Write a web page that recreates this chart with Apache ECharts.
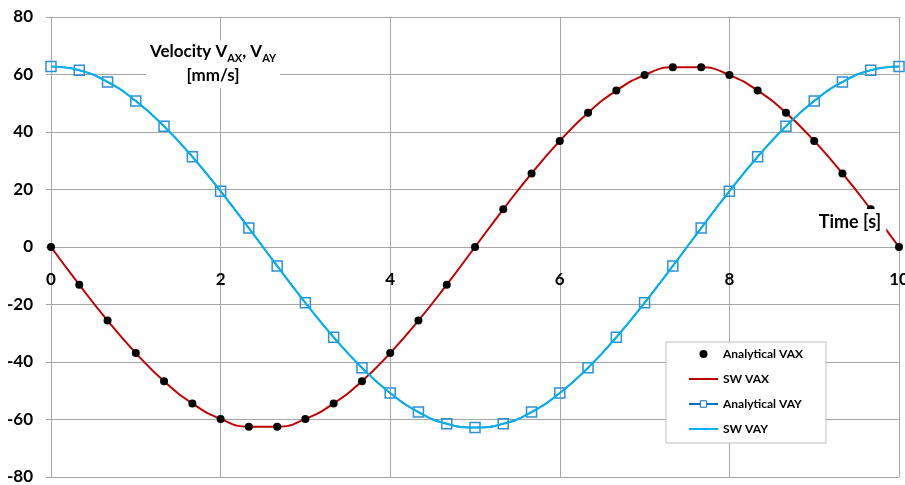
<!DOCTYPE html>
<html><head><meta charset="utf-8">
<script src="https://cdn.jsdelivr.net/npm/echarts@6/dist/echarts.min.js"></script>
<style>html,body{margin:0;padding:0;background:#fff}#c{width:905px;height:485px}</style>
</head><body><div id="c"></div>
<script>
// Time [s]
const time = [0,0.333,0.667,1,1.333,1.667,2,2.333,2.667,3,3.333,3.667,4,4.333,4.667,5,5.333,5.667,6,6.333,6.667,7,7.333,7.667,8,8.333,8.667,9,9.333,9.667,10];
// Velocities [mm/s]
const analyticalVAX = [0,-13.1,-25.6,-36.9,-46.7,-54.4,-59.8,-62.5,-62.5,-59.8,-54.4,-46.7,-36.9,-25.6,-13.1,0,13.1,25.6,36.9,46.7,54.4,59.8,62.5,62.5,59.8,54.4,46.7,36.9,25.6,13.1,0];
const swVAX = [0,-13.1,-25.6,-36.9,-46.7,-54.4,-59.8,-62.5,-62.5,-59.8,-54.4,-46.7,-36.9,-25.6,-13.1,0,13.1,25.6,36.9,46.7,54.4,59.8,62.5,62.5,59.8,54.4,46.7,36.9,25.6,13.1,0];
const analyticalVAY = [62.8,61.5,57.4,50.8,42.0,31.4,19.4,6.6,-6.6,-19.4,-31.4,-42.0,-50.8,-57.4,-61.5,-62.8,-61.5,-57.4,-50.8,-42.0,-31.4,-19.4,-6.6,6.6,19.4,31.4,42.0,50.8,57.4,61.5,62.8];
const swVAY = [62.8,61.5,57.4,50.8,42.0,31.4,19.4,6.6,-6.6,-19.4,-31.4,-42.0,-50.8,-57.4,-61.5,-62.8,-61.5,-57.4,-50.8,-42.0,-31.4,-19.4,-6.6,6.6,19.4,31.4,42.0,50.8,57.4,61.5,62.8];
const seriesNames = ['Analytical VAX','SW VAX','Analytical VAY','SW VAY'];
const yTitle = ['Velocity V', 'AX', ', V', 'AY', '[mm/s]'];
const xTitle = 'Time [s]';

const pair = arr => time.map((t, i) => [t, arr[i]]);
const FONT = 'Lato';
const GRID = '#a6a6a6';

const chart = echarts.init(document.getElementById('c'));
chart.setOption({
  animation: false,
  backgroundColor: '#fff',
  grid: { left: 51, right: 6, top: 17, bottom: 8, containLabel: false, outerBoundsMode: 'none' },
  xAxis: {
    type: 'value', min: 0, max: 10, interval: 2,
    position: 'bottom', offset: -230,
    axisLine: { onZero: false, lineStyle: { color: GRID, width: 1 } },
    axisTick: { show: false },
    splitLine: { show: true, lineStyle: { color: GRID, width: 1 } },
    axisLabel: { margin: 24, color: '#000', fontFamily: FONT, fontWeight: 'bold', fontSize: 17 }
  },
  yAxis: {
    type: 'value', min: -80, max: 80, interval: 20,
    axisLine: { show: true, lineStyle: { color: GRID, width: 1 } },
    axisTick: { show: true, length: 5, lineStyle: { color: GRID } },
    splitLine: { show: true, lineStyle: { color: GRID, width: 1 } },
    axisLabel: { margin: 18, color: '#000', fontFamily: FONT, fontWeight: 'bold', fontSize: 17 }
  },
  legend: {
    orient: 'vertical', left: 666, top: 342,
    itemWidth: 29, itemHeight: 8, itemGap: 13,
    padding: [6, 23, 8, 22],
    backgroundColor: '#fff', borderColor: '#bfbfbf', borderWidth: 1,
    textStyle: { fontFamily: FONT, fontWeight: 'bold', fontSize: 12, color: '#000' },
    data: [
      { name: seriesNames[0] },
      { name: seriesNames[1], itemStyle: { opacity: 0 } },
      { name: seriesNames[2], itemStyle: { color: '#fff', borderColor: '#0070C0', borderWidth: 1 } },
      { name: seriesNames[3], itemStyle: { opacity: 0 } }
    ]
  },
  series: [
    { name: seriesNames[0], type: 'scatter', data: pair(analyticalVAX), symbol: 'circle', symbolSize: 8,
      itemStyle: { color: '#000', opacity: 1 }, z: 5 },
    { name: seriesNames[1], type: 'line', data: pair(swVAX), smooth: true, symbol: 'none',
      lineStyle: { color: '#C00000', width: 2 }, itemStyle: { color: '#C00000' }, z: 3 },
    { name: seriesNames[2], type: 'line', data: pair(analyticalVAY), smooth: true, symbol: 'rect', symbolSize: 10,
      lineStyle: { color: '#0070C0', width: 1.5 },
      itemStyle: { color: 'rgba(255,255,255,0)', borderColor: '#2E8FD6', borderWidth: 1.5 }, z: 2 },
    { name: seriesNames[3], type: 'line', data: pair(swVAY), smooth: true, symbol: 'none',
      lineStyle: { color: '#00B0F0', width: 2 }, itemStyle: { color: '#00B0F0' }, z: 4 }
  ],
  graphic: [
    { type: 'text', x: 213, y: 40, z: 100,
      style: {
        text: '{b|' + yTitle[0] + '}{s|' + yTitle[1] + '}{b|' + yTitle[2] + '}{s|' + yTitle[3] + '}\n{b|' + yTitle[4] + '}',
        align: 'center', verticalAlign: 'top',
        backgroundColor: '#fff', padding: [0, 4, 0, 4],
        rich: {
          b: { fontFamily: FONT, fontWeight: 'bold', fontSize: 17, lineHeight: 24, fill: '#000' },
          s: { fontFamily: FONT, fontWeight: 'bold', fontSize: 11, lineHeight: 24, fill: '#000', verticalAlign: 'bottom' }
        }
      } },
    { type: 'text', x: 850, y: 222, z: 100,
      style: {
        text: xTitle, align: 'center', verticalAlign: 'middle',
        fontFamily: FONT, fontWeight: 'bold', fontSize: 18, fill: '#000',
        backgroundColor: '#fff', padding: [4, 5, 4, 5]
      } }
  ]
});
</script></body></html>
